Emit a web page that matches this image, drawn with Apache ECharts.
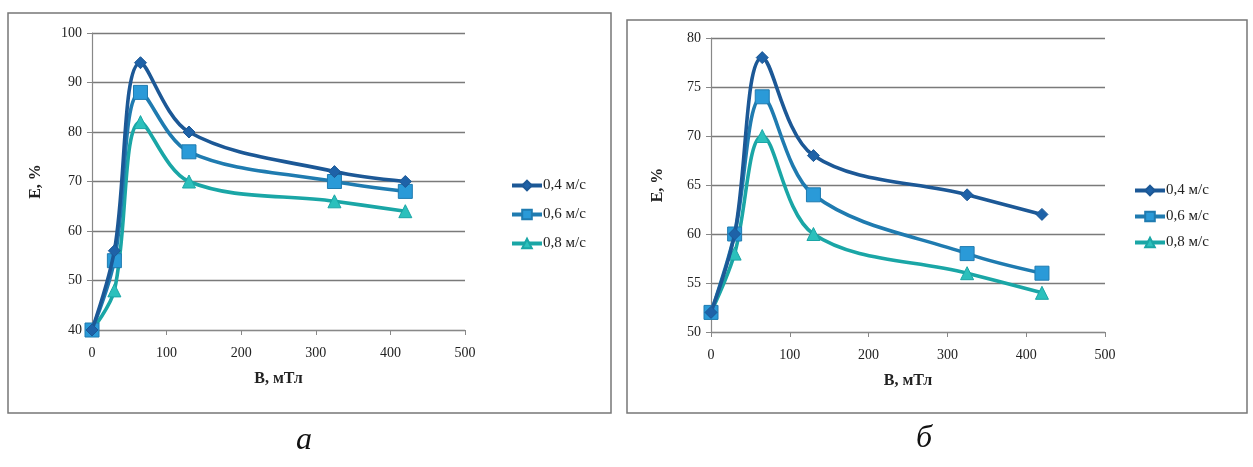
<!DOCTYPE html>
<html><head><meta charset="utf-8">
<script src="https://cdn.jsdelivr.net/npm/echarts@6/dist/echarts.min.js"></script>
<style>html,body{margin:0;padding:0;background:#fff}#c{width:1253px;height:467px}</style>
</head><body><div id="c"></div>
<script>
const xValues = [0, 30, 65, 130, 325, 420];
const seriesNames = ['0,4 м/с', '0,6 м/с', '0,8 м/с'];
// panel а
const aS04 = [40, 56, 94, 80, 72, 70];
const aS06 = [40, 54, 88, 76, 70, 68];
const aS08 = [40, 48, 82, 70, 66, 64];
// panel б
const bS04 = [52, 60, 78, 68, 64, 62];
const bS06 = [52, 60, 74, 64, 58, 56];
const bS08 = [52, 58, 70, 60, 56, 54];
const captions = ['а', 'б'];
const xTitle = 'B, мТл';
const yTitle = 'E, %';

const lineColors = ['#1c5896', '#1f7bb0', '#1aa6a6'];
const markerColors = ['#1e62a8', '#2a9ad8', '#2cc0bc'];
const symbols = ['diamond', 'rect', 'triangle'];
const symbolSizes = [12, 14, 13];
const font = 'Liberation Serif';

function pairs(ys){ return xValues.map((x,i)=>[x, ys[i]]); }
function mkSeries(data, idx, axisIdx){
  return {
    name: seriesNames[idx], type: 'line', xAxisIndex: axisIdx, yAxisIndex: axisIdx,
    data: pairs(data), smooth: 0.35, symbol: symbols[idx], symbolSize: symbolSizes[idx],
    lineStyle: {color: lineColors[idx], width: 3.6},
    itemStyle: {color: markerColors[idx], borderColor: lineColors[idx], borderWidth: 1},
    emphasis: {disabled: true}, z: 10 - idx
  };
}
function xAx(gi){
  return {type:'value', gridIndex: gi, min:0, max:500, interval:100,
    name: xTitle, nameLocation:'middle', nameGap: 41,
    nameTextStyle:{fontFamily:font, fontWeight:'bold', fontSize:16, color:'#222'},
    axisLine:{show:true, onZero:false, lineStyle:{color:'#888', width:1.2}},
    axisTick:{show:true, length:5, lineStyle:{color:'#888'}},
    axisLabel:{fontFamily:font, fontSize:14, color:'#222', margin:16},
    splitLine:{show:false}};
}
function yAx(gi, mn, mx, iv){
  return {type:'value', gridIndex: gi, min:mn, max:mx, interval:iv,
    name: yTitle, nameLocation:'middle', nameGap: gi===0?48:45, nameRotate: 90,
    nameTextStyle:{fontFamily:font, fontWeight:'bold', fontSize:16, color:'#222'},
    axisLine:{show:true, lineStyle:{color:'#888', width:1.2}},
    axisTick:{show:true, length:5, lineStyle:{color:'#888'}},
    axisLabel:{fontFamily:font, fontSize:14, color:'#222', margin:10},
    splitLine:{show:true, lineStyle:{color:'#7a7a7a', width:1.3}}};
}
function legend(left, top, gap){
  return {orient:'vertical', left:left, top:top, itemGap:gap, itemWidth:30, itemHeight:12,
    data: seriesNames, selectedMode:false,
    lineStyle:{width:4},
    textStyle:{fontFamily:font, fontSize:15, color:'#222', padding:[0,0,0,-4]}};
}

const chart = echarts.init(document.getElementById('c'), null, {renderer:'canvas'});
chart.setOption({
  animation:false,
  backgroundColor:'#fff',
  grid:[{left:92, top:33, width:373, height:297},
        {left:711, top:38, width:394, height:294}],
  xAxis:[xAx(0), xAx(1)],
  yAxis:[yAx(0,40,100,10), yAx(1,50,80,5)],
  legend:[legend(505, 173, 14), legend(1128, 178, 11)],
  series:[mkSeries(aS04,0,0), mkSeries(aS06,1,0), mkSeries(aS08,2,0),
          mkSeries(bS04,0,1), mkSeries(bS06,1,1), mkSeries(bS08,2,1)],
  graphic:[
    {type:'rect', shape:{x:8, y:13, width:603, height:400}, style:{fill:'none', stroke:'#777', lineWidth:1.5}, silent:true, z:-1},
    {type:'rect', shape:{x:627, y:20, width:620, height:393}, style:{fill:'none', stroke:'#777', lineWidth:1.5}, silent:true, z:-1},
    {type:'text', left:296, top:425, style:{text:captions[0], font:'italic 32px "Liberation Serif"', fill:'#111'}},
    {type:'text', left:916, top:423, style:{text:captions[1], font:'italic 32px "Liberation Serif"', fill:'#111'}}
  ]
});
</script></body></html>
